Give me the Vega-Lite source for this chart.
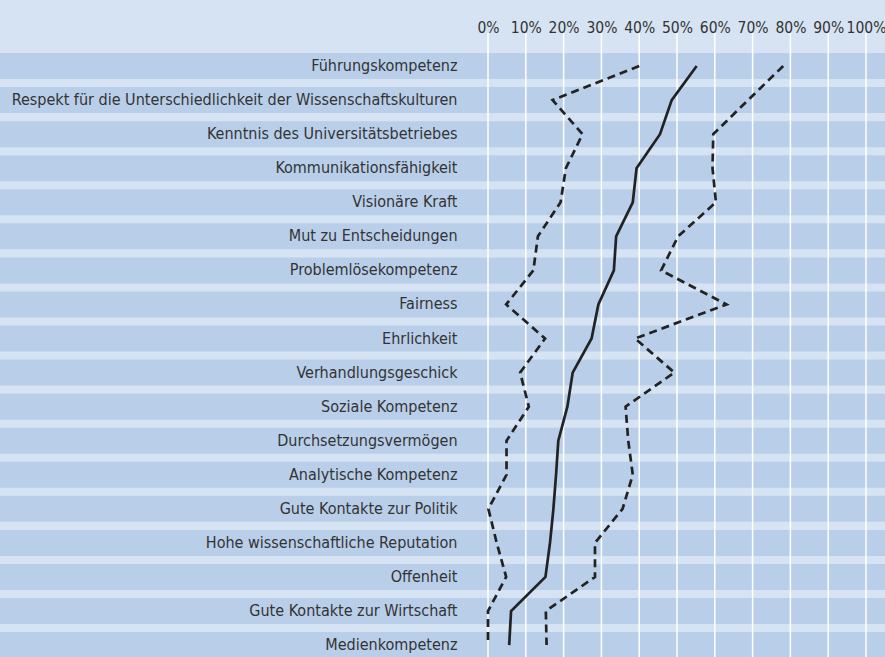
{
  "$schema": "https://vega.github.io/schema/vega-lite/v6.json",
  "autosize": {"type": "none"},
  "padding": {"left": 460, "top": 33, "right": 0, "bottom": 0},
  "width": 425,
  "height": 624,
  "background": "#d6e3f2",
  "config": {"view": {"stroke": null, "fill": null}},
  "data": {"values": [
    {"i": 1, "item": "Führungskompetenz", "low": 40.0, "mid": 55.2, "high": 78.1},
    {"i": 2, "item": "Respekt für die Unterschiedlichkeit der Wissenschaftskulturen", "low": 17.1, "mid": 48.6, "high": 68.8},
    {"i": 3, "item": "Kenntnis des Universitätsbetriebes", "low": 25.0, "mid": 45.5, "high": 59.6},
    {"i": 4, "item": "Kommunikationsfähigkeit", "low": 20.6, "mid": 39.3, "high": 59.4},
    {"i": 5, "item": "Visionäre Kraft", "low": 19.2, "mid": 38.3, "high": 60.3},
    {"i": 6, "item": "Mut zu Entscheidungen", "low": 13.2, "mid": 33.9, "high": 50.3},
    {"i": 7, "item": "Problemlösekompetenz", "low": 12.0, "mid": 33.3, "high": 45.8},
    {"i": 8, "item": "Fairness", "low": 4.8, "mid": 29.2, "high": 63.1},
    {"i": 9, "item": "Ehrlichkeit", "low": 15.1, "mid": 27.4, "high": 38.9},
    {"i": 10, "item": "Verhandlungsgeschick", "low": 8.5, "mid": 22.4, "high": 49.3},
    {"i": 11, "item": "Soziale Kompetenz", "low": 10.8, "mid": 21.0, "high": 36.4},
    {"i": 12, "item": "Durchsetzungsvermögen", "low": 4.9, "mid": 18.6, "high": 37.1},
    {"i": 13, "item": "Analytische Kompetenz", "low": 4.9, "mid": 18.0, "high": 38.3},
    {"i": 14, "item": "Gute Kontakte zur Politik", "low": 0.1, "mid": 17.3, "high": 35.6},
    {"i": 15, "item": "Hohe wissenschaftliche Reputation", "low": 2.3, "mid": 16.4, "high": 28.3},
    {"i": 16, "item": "Offenheit", "low": 4.8, "mid": 15.2, "high": 28.3},
    {"i": 17, "item": "Gute Kontakte zur Wirtschaft", "low": 0.0, "mid": 6.1, "high": 15.3},
    {"i": 18, "item": "Medienkompetenz", "low": 0.0, "mid": 5.6, "high": 15.5}
  ]},
  "layer": [
    {
      "mark": {"type": "bar", "color": "#b9cfe9", "size": 26},
      "encoding": {
        "y": {
          "field": "item", "type": "nominal", "sort": null,
          "scale": {"range": [16, 629.1], "paddingInner": 0, "paddingOuter": 0},
          "axis": {
            "title": null, "domain": false, "ticks": false, "labelPadding": 3,
            "labelFont": "DejaVu Sans Condensed, sans-serif",
            "labelFontSize": 16, "labelColor": "#333333", "labelLimit": 600, "zindex": 1
          }
        },
        "x": {
          "datum": -130, "type": "quantitative",
          "scale": {"domain": [-7.41, 105.03], "nice": false, "zero": false},
          "axis": {
            "orient": "top", "title": null, "domain": false, "ticks": false, "grid": false,
            "values": [0, 10, 20, 30, 40, 50, 60, 70, 80, 90, 100],
            "labelExpr": "datum.value + '%'",
            "labelFont": "DejaVu Sans Condensed, sans-serif",
            "labelFontSize": 15.5, "labelColor": "#333333", "labelPadding": -2,
            "labelFlush": false, "labelOverlap": false
          }
        },
        "x2": {"datum": 106}
      }
    },
    {
      "data": {"values": [{"v": 0}, {"v": 10}, {"v": 20}, {"v": 30}, {"v": 40}, {"v": 50}, {"v": 60}, {"v": 70}, {"v": 80}, {"v": 90}, {"v": 100}]},
      "mark": {"type": "rule", "color": "#ffffff", "strokeWidth": 1.5},
      "encoding": {"x": {"field": "v", "type": "quantitative"}}
    },
    {
      "mark": {"type": "line", "color": "#222222", "strokeWidth": 2.7, "strokeDash": [8, 5], "strokeJoin": "miter"},
      "encoding": {
        "y": {"field": "item", "type": "nominal", "sort": null},
        "x": {"field": "low", "type": "quantitative"},
        "order": {"field": "i", "type": "quantitative"}
      }
    },
    {
      "mark": {"type": "line", "color": "#222222", "strokeWidth": 2.7, "strokeDash": [8, 5], "strokeJoin": "miter"},
      "encoding": {
        "y": {"field": "item", "type": "nominal", "sort": null},
        "x": {"field": "high", "type": "quantitative"},
        "order": {"field": "i", "type": "quantitative"}
      }
    },
    {
      "mark": {"type": "line", "color": "#222222", "strokeWidth": 2.7},
      "encoding": {
        "y": {"field": "item", "type": "nominal", "sort": null},
        "x": {"field": "mid", "type": "quantitative"},
        "order": {"field": "i", "type": "quantitative"}
      }
    }
  ]
}
